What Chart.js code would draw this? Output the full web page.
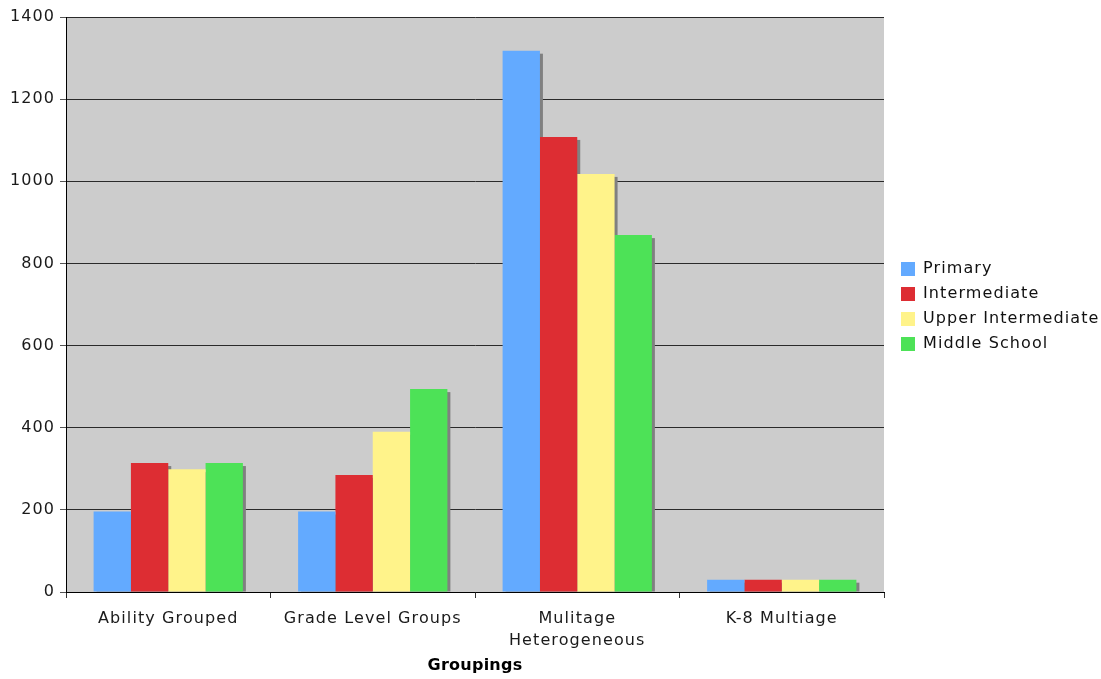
<!DOCTYPE html>
<html>
<head>
<meta charset="utf-8">
<script src="https://cdn.jsdelivr.net/npm/chart.js@4/dist/chart.umd.min.js"></script>
<style>
  html, body { margin: 0; padding: 0; background: #ffffff; }
  canvas { display: block; }
</style>
</head>
<body>
<canvas id="chart" width="1101" height="679"></canvas>
<script>
// Categories along the x axis
const groupings = ['Ability Grouped', 'Grade Level Groups', ['Mulitage', 'Heterogeneous'], 'K-8 Multiage'];

// Series values, one per grouping
const primary           = [196, 196, 1318, 30];
const intermediate      = [314, 285, 1108, 30];
const upperIntermediate = [299, 390, 1018, 30];
const middleSchool      = [314, 494, 869, 30];

// Value axis tick labels
const yTicks = [0, 200, 400, 600, 800, 1000, 1200, 1400];

const seriesNames = ['Primary', 'Intermediate', 'Upper Intermediate', 'Middle School'];
const seriesColors = ['#63aaff', '#dd2d33', '#fff38a', '#4de257'];
const seriesData = [primary, intermediate, upperIntermediate, middleSchool];

Chart.defaults.font.family = "'DejaVu Sans', Verdana, sans-serif";
Chart.defaults.font.size = 16;
Chart.defaults.color = '#1a1a1a';

const TEXT_SPACING = '1.1px';
const TITLE_SPACING = '0.25px';

// Grey plot background, letter spacing, legend placement, drop shadows behind bars
const plotStyle = {
  id: 'plotStyle',
  beforeLayout(chart) {
    chart.ctx.letterSpacing = TEXT_SPACING;
    const legend = chart.legend;
    if (legend && !legend._fixedWidth) {
      const fit = legend.fit;
      legend.fit = function () { fit.call(this); this.width = 217; };
      legend._fixedWidth = true;
    }
  },
  afterLayout(chart) {
    if (chart.legend) {
      chart.legend.left += 8;
      chart.legend.top += 2;
      chart.legend.bottom += 2;
    }
    const x = chart.scales.x;
    if (x && !x._titleWrapped) {
      const drawTitle = x.drawTitle;
      x.drawTitle = function () {
        const ctx = this.ctx;
        const prev = ctx.letterSpacing;
        ctx.letterSpacing = TITLE_SPACING;
        drawTitle.apply(this, arguments);
        ctx.letterSpacing = prev;
      };
      x._titleWrapped = true;
    }
  },
  beforeDraw(chart) {
    const { ctx, chartArea: a } = chart;
    ctx.letterSpacing = TEXT_SPACING;
    ctx.save();
    ctx.fillStyle = '#cccccc';
    ctx.fillRect(a.left, a.top, a.right - a.left, a.bottom - a.top);
    ctx.restore();
  },
  beforeDatasetsDraw(chart) {
    const ctx = chart.ctx;
    ctx.save();
    ctx.fillStyle = '#808080';
    chart.data.datasets.forEach((ds, i) => {
      const meta = chart.getDatasetMeta(i);
      meta.data.forEach(bar => {
        const p = bar.getProps(['x', 'y', 'base', 'width'], true);
        const h = p.base - p.y - 3;
        if (h > 0) ctx.fillRect(p.x - p.width / 2 + 3, p.y + 3, p.width, h);
      });
    });
    ctx.restore();
  }
};

new Chart(document.getElementById('chart'), {
  type: 'bar',
  data: {
    labels: groupings,
    datasets: seriesData.map((d, i) => ({
      label: seriesNames[i],
      data: d,
      backgroundColor: seriesColors[i],
      borderWidth: 0,
      categoryPercentage: 0.73,
      barPercentage: 1.0
    }))
  },
  options: {
    responsive: false,
    devicePixelRatio: 1,
    animation: false,
    layout: { padding: { top: 17, right: 0, bottom: 0, left: 0 } },
    plugins: {
      tooltip: { enabled: false },
      legend: {
        position: 'right',
        fullSize: false,
        align: 'center',
        labels: {
          boxWidth: 14,
          boxHeight: 14,
          padding: 9,
          color: '#111111',
          font: { size: 16 }
        }
      }
    },
    scales: {
      x: {
        grid: {
          display: true,
          drawOnChartArea: false,
          drawTicks: true,
          tickLength: 6,
          color: '#333333',
          offset: true
        },
        border: { display: true, color: '#000000', width: 1 },
        ticks: {
          padding: 10,
          color: '#1a1a1a',
          maxRotation: 0,
          autoSkip: false,
          font: { size: 16, lineHeight: 1.375 }
        },
        title: {
          display: true,
          text: 'Groupings',
          color: '#000000',
          font: { size: 16, weight: 'bold' },
          padding: { top: 4, bottom: 4 }
        },
        afterFit(scale) { scale.height = 87; }
      },
      y: {
        min: yTicks[0],
        max: yTicks[yTicks.length - 1],
        ticks: {
          stepSize: yTicks[1] - yTicks[0],
          padding: 5,
          color: '#1a1a1a',
          callback: v => String(v)
        },
        grid: {
          color: '#2a2a2a',
          lineWidth: 1,
          tickLength: 6,
          tickColor: '#555555'
        },
        border: { display: true, color: '#000000', width: 1 },
        afterFit(scale) { scale.width = 66; }
      }
    }
  },
  plugins: [plotStyle]
});
</script>
</body>
</html>
